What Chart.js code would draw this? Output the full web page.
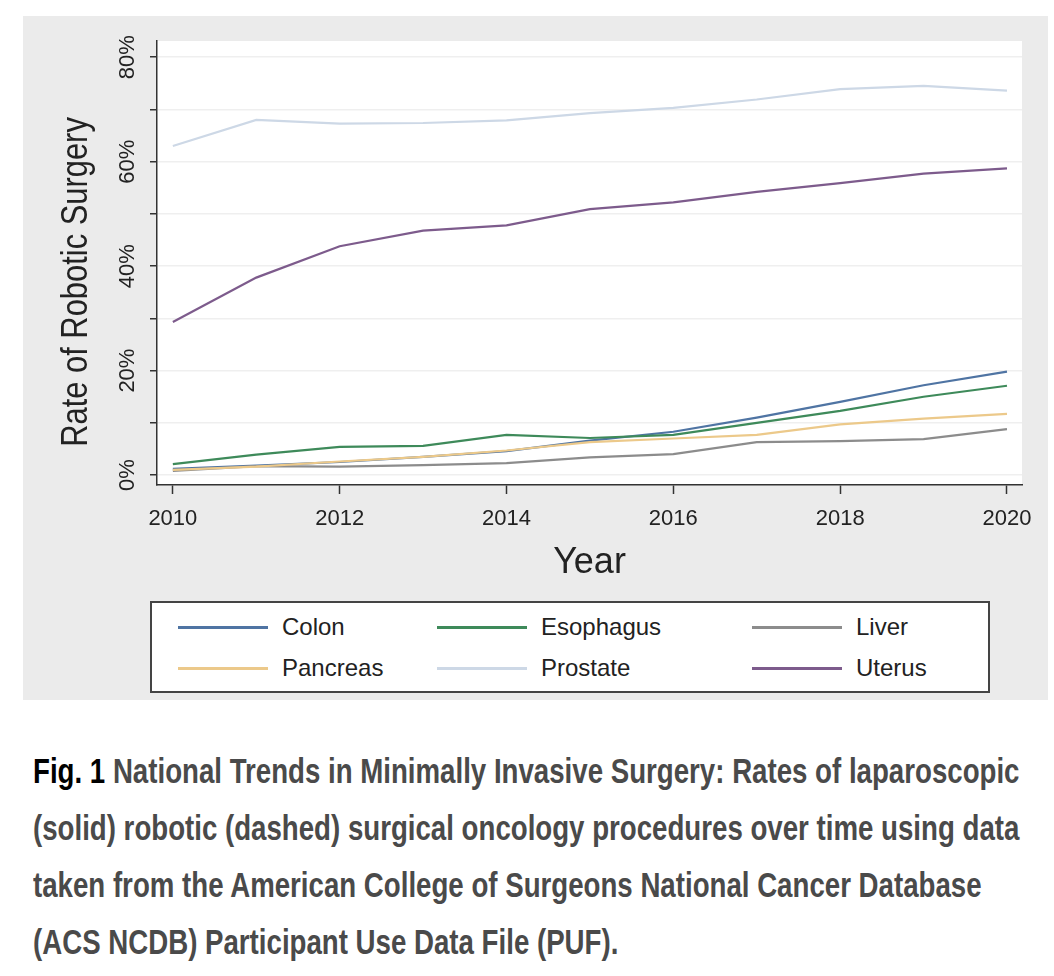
<!DOCTYPE html>
<html>
<head>
<meta charset="utf-8">
<script src="https://cdn.jsdelivr.net/npm/chart.js@4.4.1/dist/chart.umd.min.js"></script>
<style>
  body { margin: 0; background: #fff; font-family: "Liberation Sans", Arial, sans-serif; }
  #panel { position: absolute; left: 23px; top: 16px; width: 1025px; height: 684px; background: #ebebeb; }
  #chart { position: absolute; left: 0; top: 0; }
  #legend { position: absolute; left: 127px; top: 585px; width: 836px; height: 88px; background: #fff; border: 2px solid #444; }
  .item { position: absolute; height: 30px; }
  .swatch { position: absolute; top: 14px; width: 90px; height: 2.5px; }
  .label { position: absolute; left: 104px; top: 1px; font-size: 24px; color: #222; white-space: nowrap; }
  #caption { position: absolute; left: 33px; top: 742px; font-size: 35px; font-weight: bold; line-height: 57px; color: #4a4a4a; white-space: nowrap; transform: scaleX(0.79); transform-origin: 0 0; }
  #caption b { color: #000; }
</style>
</head>
<body>
<div id="panel">
  <canvas id="chart" width="1025" height="590"></canvas>
  <div id="legend"></div>
</div>
<div id="caption"><b>Fig. 1</b> National Trends in Minimally Invasive Surgery: Rates of laparoscopic<br>(solid) robotic (dashed) surgical oncology procedures over time using data<br>taken from the American College of Surgeons National Cancer Database<br>(ACS NCDB) Participant Use Data File (PUF).</div>

<script>
// values, percent
const years = [2010, 2011, 2012, 2013, 2014, 2015, 2016, 2017, 2018, 2019, 2020];
const colon = [1.2, 1.8, 2.5, 3.5, 4.6, 6.6, 8.3, 11.0, 14.0, 17.2, 19.8];
const esophagus = [2.1, 3.9, 5.4, 5.6, 7.7, 7.1, 7.7, 10.0, 12.3, 15.0, 17.1];
const liver = [0.8, 1.7, 1.6, 1.9, 2.3, 3.4, 4.0, 6.3, 6.5, 6.9, 8.8];
const pancreas = [1.0, 1.6, 2.6, 3.5, 4.7, 6.3, 7.0, 7.7, 9.7, 10.8, 11.7];
const prostate = [63.0, 68.0, 67.3, 67.4, 67.9, 69.3, 70.3, 71.9, 73.9, 74.5, 73.6];
const uterus = [29.3, 37.8, 43.8, 46.8, 47.8, 50.9, 52.2, 54.2, 55.9, 57.7, 58.7];

const seriesNames = ["Colon", "Esophagus", "Liver", "Pancreas", "Prostate", "Uterus"];
const seriesValues = [colon, esophagus, liver, pancreas, prostate, uterus];
const seriesColors = ["#4f74a3", "#3e8a5a", "#8c8c8c", "#ecc98a", "#cdd8e6", "#7d5b8c"];

const xTicks = [2010, 2012, 2014, 2016, 2018, 2020];
const yTicks = [0, 10, 20, 30, 40, 50, 60, 70, 80];
const yLabelValues = [0, 20, 40, 60, 80];
const yTickLabels = ["0%", "20%", "40%", "60%", "80%"];

Chart.defaults.font.family = '"Liberation Sans", Arial, sans-serif';
Chart.defaults.color = "#222";

// white plot region on the grey panel
const plotBg = {
  id: "plotBg",
  beforeDraw(chart) {
    const { ctx, chartArea: a } = chart;
    ctx.save();
    ctx.fillStyle = "#fff";
    ctx.fillRect(a.left, a.top, a.right - a.left, a.bottom - a.top);
    ctx.restore();
  }
};

// y labels and title are rotated like the original, so draw them here
const yText = {
  id: "yText",
  afterDraw(chart) {
    const { ctx } = chart;
    const s = chart.scales.y;
    ctx.save();
    ctx.fillStyle = "#222";
    ctx.textAlign = "center";
    ctx.textBaseline = "middle";
    ctx.font = '22px "Liberation Sans", Arial, sans-serif';
    yLabelValues.forEach((v, i) => {
      ctx.save();
      ctx.translate(s.right - 29, s.getPixelForValue(v));
      ctx.rotate(-Math.PI / 2);
      ctx.fillText(yTickLabels[i], 0, 0);
      ctx.restore();
    });
    ctx.font = '37px "Liberation Sans", Arial, sans-serif';
    ctx.translate(54, 266);
    ctx.rotate(-Math.PI / 2);
    ctx.scale(0.835, 1);
    ctx.fillText("Rate of Robotic Surgery", 0, 0);
    ctx.restore();
  }
};

const datasets = seriesNames.map((name, i) => ({
  label: name,
  data: years.map((yr, j) => ({ x: yr, y: seriesValues[i][j] })),
  borderColor: seriesColors[i],
  borderWidth: 2.2,
  pointRadius: 0,
  tension: 0,
  order: seriesNames.length - i
}));

const chart = new Chart(document.getElementById("chart"), {
  type: "line",
  data: { datasets },
  options: {
    responsive: false,
    animation: false,
    layout: { padding: { top: 25, right: 26, bottom: 21, left: 0 } },
    plugins: { legend: { display: false }, tooltip: { enabled: false } },
    scales: {
      x: {
        type: "linear",
        min: 2009.81,
        max: 2020.18,
        afterBuildTicks: s => { s.ticks = xTicks.map(v => ({ value: v })); },
        afterFit: s => { s.height = 100; },
        ticks: { font: { size: 22 }, padding: 12, maxRotation: 0, callback: v => String(v) },
        grid: { drawOnChartArea: false, drawTicks: true, tickLength: 9, tickColor: "#333", tickWidth: 1.5 },
        border: { color: "#333", width: 1.5 },
        title: { display: true, text: "Year", font: { size: 36 }, padding: { top: 0, bottom: 0 } }
      },
      y: {
        min: -1.9,
        max: 83.1,
        afterBuildTicks: s => { s.ticks = yTicks.map(v => ({ value: v })); },
        afterFit: s => { s.width = 134; },
        ticks: { display: false },
        grid: { color: "#efefef", lineWidth: 1.5, drawTicks: true, tickLength: 7, tickColor: "#333", tickWidth: 1.5 },
        border: { color: "#333", width: 1.5 }
      }
    }
  },
  plugins: [plotBg, yText]
});

// legend in three columns, built from the same series lists
const legend = document.getElementById("legend");
const colLeft = [26, 285, 600];
const rowTop = [9, 50];
seriesNames.forEach((name, i) => {
  const item = document.createElement("div");
  item.className = "item";
  item.style.left = colLeft[i % 3] + "px";
  item.style.top = rowTop[Math.floor(i / 3)] + "px";
  item.innerHTML = '<div class="swatch" style="background:' + seriesColors[i] + '"></div><div class="label">' + name + "</div>";
  legend.appendChild(item);
});
</script>
</body>
</html>
